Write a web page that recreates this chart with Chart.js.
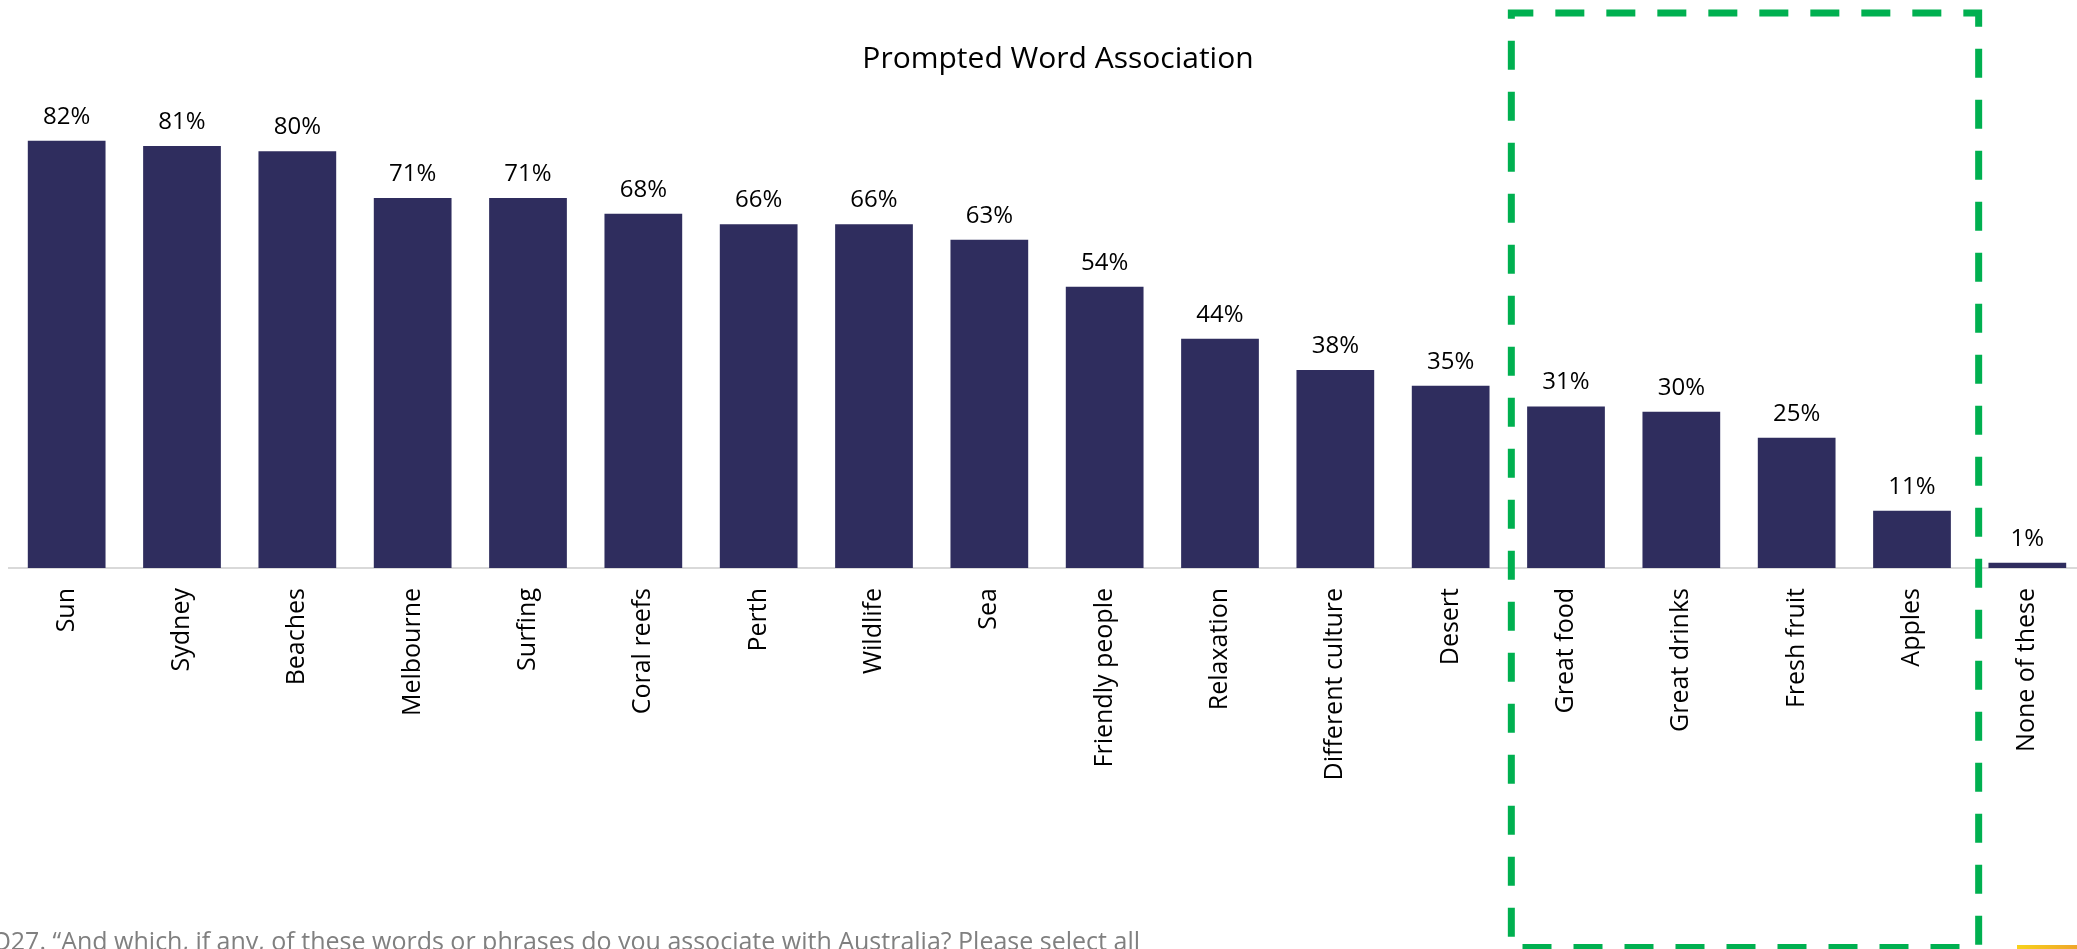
<!DOCTYPE html>
<html>
<head>
<meta charset="utf-8">
<title>Prompted Word Association</title>
<script src="https://cdn.jsdelivr.net/npm/chart.js@4.4.1/dist/chart.umd.min.js"></script>
<style>
  html, body { margin: 0; padding: 0; background: #fff; overflow: hidden; }
  canvas { display: block; }
</style>
</head>
<body>
<canvas id="myChart" width="2100" height="949"></canvas>
<script>
const categories = ['Sun', 'Sydney', 'Beaches', 'Melbourne', 'Surfing', 'Coral reefs', 'Perth', 'Wildlife', 'Sea',
    'Friendly people', 'Relaxation', 'Different culture', 'Desert', 'Great food', 'Great drinks', 'Fresh fruit',
    'Apples', 'None of these'];
const values = [82, 81, 80, 71, 71, 68, 66, 66, 63, 54, 44, 38, 35, 31, 30, 25, 11, 1];
const highlighted = ['Great food', 'Great drinks', 'Fresh fruit', 'Apples'];
const titleText = 'Prompted Word Association';
const footnote = 'Q27. \u201CAnd which, if any, of these words or phrases do you associate with Australia? Please select all';

const FONT = "'Open Sans', 'Noto Sans', sans-serif";
const barColor = '#2f2d5e';

// percent labels above each bar
const valueLabels = {
    id: 'valueLabels',
    afterDatasetsDraw(chart) {
        const ctx = chart.ctx;
        const meta = chart.getDatasetMeta(0);
        ctx.save();
        ctx.font = '24px ' + FONT;
        ctx.fillStyle = '#000';
        ctx.textAlign = 'center';
        ctx.textBaseline = 'alphabetic';
        meta.data.forEach((bar, i) => {
            ctx.fillText(values[i] + '%', bar.x, bar.y - 17);
        });
        ctx.restore();
    }
};

// title, footnote, the dashed highlight frame and the corner strip
const decorations = {
    id: 'decorations',
    afterDraw(chart) {
        const ctx = chart.ctx;
        const x = chart.scales.x;
        ctx.save();

        ctx.font = '30px ' + FONT;
        ctx.fillStyle = '#000';
        ctx.textAlign = 'center';
        ctx.textBaseline = 'middle';
        ctx.fillText(titleText, 1058, 59);

        ctx.font = '25px ' + FONT;
        ctx.fillStyle = '#808080';
        ctx.textAlign = 'right';
        ctx.textBaseline = 'alphabetic';
        ctx.fillText(footnote, 1140, 950);

        const first = categories.indexOf(highlighted[0]);
        const last = categories.indexOf(highlighted[highlighted.length - 1]);
        const left = x.getPixelForValue(first - 0.5) + 3;
        const right = x.getPixelForValue(last + 0.5) + 9;
        ctx.strokeStyle = '#00b050';
        ctx.lineWidth = 7;
        ctx.setLineDash([29, 22]);
        ctx.lineDashOffset = 7;
        ctx.strokeRect(left, 13, right - left, 934.5);

        const grad = ctx.createLinearGradient(2017, 0, 2077, 0);
        grad.addColorStop(0, '#f7d21a');
        grad.addColorStop(1, '#efa62a');
        ctx.fillStyle = grad;
        ctx.fillRect(2017, 945, 60, 4);
        ctx.restore();
    }
};

const ctx = document.getElementById('myChart').getContext('2d');
const chart = new Chart(ctx, {
    type: 'bar',
    data: {
        labels: categories,
        datasets: [{
            data: values,
            backgroundColor: barColor,
            borderWidth: 0,
            categoryPercentage: 1,
            barPercentage: 0.674
        }]
    },
    options: {
        responsive: false,
        animation: false,
        layout: {
            padding: { left: 9, right: 15, top: 47, bottom: 0 }
        },
        plugins: {
            legend: { display: false },
            title: { display: false },
            tooltip: { enabled: false }
        },
        scales: {
            x: {
                grid: { display: false, drawTicks: false },
                border: { display: true, color: '#d9d9d9', width: 2 },
                ticks: {
                    color: '#000',
                    font: { family: FONT, size: 25 },
                    minRotation: 90,
                    maxRotation: 90,
                    padding: 20,
                    autoSkip: false
                },
                afterFit: (scale) => { scale.height = 381; }
            },
            y: {
                display: false,
                min: 0,
                max: 100
            }
        }
    },
    plugins: [valueLabels, decorations]
});
</script>
</body>
</html>
